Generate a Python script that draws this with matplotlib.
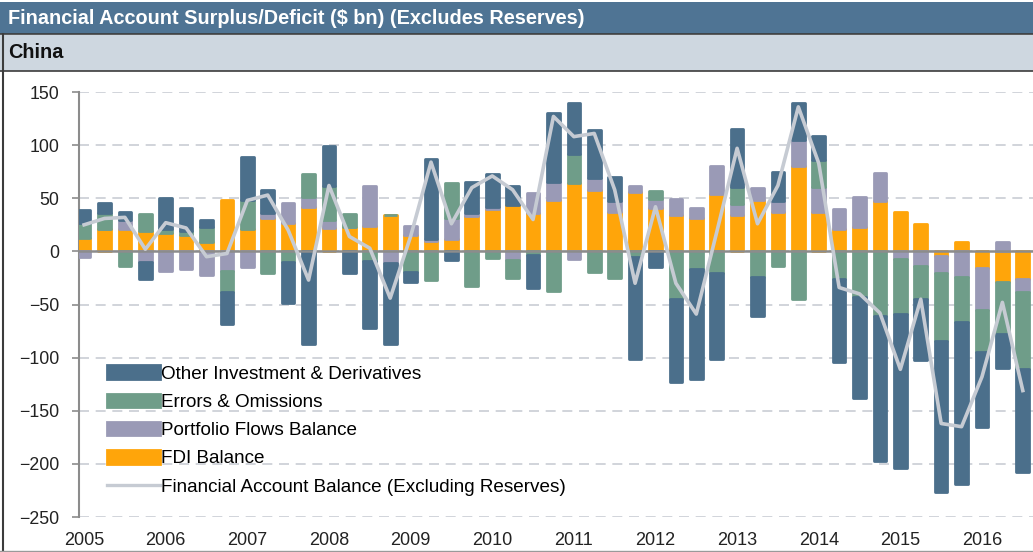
import numpy as np
import matplotlib.pyplot as plt
from matplotlib.patches import Rectangle, Patch
from matplotlib.lines import Line2D

plt.rcParams['font.family'] = ['Liberation Sans', 'DejaVu Sans']

# ---------------- data ($ bn, quarterly 2005Q1 - 2016Q3) ----------------
years = [str(y) for y in range(2005, 2017)]

fdi = [13, 21, 21, 19, 17, 15, 9, 48, 21, 31, 27, 42, 22, 23, 24, 34,
       15, 10, 12, 33, 40, 44, 36, 48, 64, 58, 37, 56, 41, 34, 31, 54,
       34, 48, 37, 80, 37, 21, 23, 47, 37, 26, -4, 9, -16, -29, -26]

portfolio = [-5, 0, 9, -10, -18, -17, -22, -18, -15, 5, 19, 9, 8, 0, 38, -11,
             9, 2, 19, 3, 2, -8, 19, 17, -7, 11, 10, 6, 8, 15, 10, 26,
             11, 12, 10, 25, 24, 19, 28, 27, -7, -14, -16, -24, -39, 9, -12]

errors = [14, 15, -14, 16, 4, 4, 14, -20, 27, -20, -10, 22, 32, 12, -9, 0,
          -19, -27, 33, -33, -6, -17, -3, -37, 28, -19, -25, -5, 8, -45, -17, -20,
          16, -24, -14, -45, 25, -26, -43, -61, -52, -31, -64, -42, -40, -49, -73]

other = [12, 10, 7, -16, 29, 22, 7, -30, 41, 22, -39, -87, 37, -20, -63, -76,
         -10, 75, -8, 29, 31, 18, -31, 65, 48, 45, 23, -96, -15, -78, -103, -81,
         54, -37, 28, 35, 23, -78, -95, -136, -145, -57, -142, -153, -70, -32, -97]

balance = [25, 31, 32, 2, 27, 22, -5, -2, 48, 53, 20, -27, 62, 14, 3, -44,
           14, 84, 26, 60, 71, 58, 30, 127, 108, 111, 58, -30, 42, -30, -59, 18,
           97, 26, 62, 136, 83, -34, -40, -58, -111, -45, -162, -165, -118, -48, -131]

# series in stacking order (closest to zero first)
series = [
    ("FDI Balance", fdi, "#ffa50a"),
    ("Portfolio Flows Balance", portfolio, "#9a9ab6"),
    ("Errors & Omissions", errors, "#6f9d89"),
    ("Other Investment & Derivatives", other, "#4b6f8b"),
]
LINE_COLOR = "#c6cbd3"

# ---------------- figure ----------------
W, H = 1033, 552
fig = plt.figure(figsize=(W / 100, H / 100), dpi=100)
fig.patch.set_facecolor("white")

# header bands
fig.patches.append(Rectangle((0, 1 - 34 / H), 1, 32 / H, transform=fig.transFigure,
                             facecolor="#4f7494", edgecolor="none", zorder=0))
fig.patches.append(Rectangle((0, 1 - 71 / H), 1, 36 / H, transform=fig.transFigure,
                             facecolor="#ced7e0", edgecolor="none", zorder=0))
for yy in (34, 71):
    fig.add_artist(Line2D([0, 1], [1 - yy / H, 1 - yy / H], transform=fig.transFigure,
                          color="#3c3c3c", lw=1.2))
fig.add_artist(Line2D([2.5 / W, 2.5 / W], [0, 1 - 34 / H], transform=fig.transFigure,
                      color="#3c3c3c", lw=1.5))
fig.add_artist(Line2D([0, 1], [1.5 / H, 1.5 / H], transform=fig.transFigure,
                      color="#9a9a9a", lw=1.0))

fig.text(8 / W, 1 - 18 / H, "Financial Account Surplus/Deficit ($ bn) (Excludes Reserves)",
         color="white", fontsize=14.3, fontweight="bold", va="center", ha="left")
fig.text(8 / W, 1 - 52 / H, "China", color="#111111", fontsize=14.3,
         fontweight="bold", va="center", ha="left")

# chart axes
ax = fig.add_axes([79 / W, 35 / H, 954 / W, 425 / H])
x = np.arange(len(fdi))

pos_base = np.zeros(len(x))
neg_base = np.zeros(len(x))
for name, vals, col in series:
    v = np.array(vals, dtype=float)
    base = np.where(v >= 0, pos_base, neg_base)
    ax.bar(x, v, bottom=base, width=0.62, color=col, edgecolor=col,
           linewidth=2.0, joinstyle="round", zorder=3)
    pos_base += np.where(v >= 0, v, 0)
    neg_base += np.where(v < 0, v, 0)

ax.axhline(0, color="#8c8c8c", lw=1.8, zorder=4)
ax.plot(x, balance, color=LINE_COLOR, lw=2.6, zorder=5, solid_joinstyle="round")

ax.set_xlim(-0.25, 46.5)
ax.set_ylim(-250, 150)
ax.set_yticks(np.arange(-250, 151, 50))
ax.yaxis.grid(True, linestyle=(0, (6, 4)), color="#cacdd4", lw=1.2, zorder=0)
ax.set_axisbelow(True)

ax.set_xticks(np.arange(0, len(x), 4))
ax.set_xticklabels(years)
ax.tick_params(axis="x", length=0, pad=11, labelsize=13, labelcolor="#222222")
ax.tick_params(axis="y", length=5, width=1.2, color="#8c8c8c", pad=9,
               labelsize=12.8, labelcolor="#222222")

for s in ("top", "right", "bottom"):
    ax.spines[s].set_visible(False)
ax.spines["left"].set_color("#8c8c8c")
ax.spines["left"].set_linewidth(1.5)

handles = [Patch(facecolor=c, edgecolor=c, joinstyle="round", linewidth=2)
           for _, _, c in series[::-1]]
handles.append(Line2D([], [], color=LINE_COLOR, lw=2.4))
labels = [n for n, _, _ in series[::-1]] + ["Financial Account Balance (Excluding Reserves)"]
ax.legend(handles, labels, loc="upper left", bbox_to_anchor=(0.029, 0.357),
          frameon=False, fontsize=13.6, handlelength=2.8, handleheight=0.72,
          handletextpad=0.1, labelspacing=0.58, borderpad=0, borderaxespad=0)

fig.savefig("out.png", dpi=100)
